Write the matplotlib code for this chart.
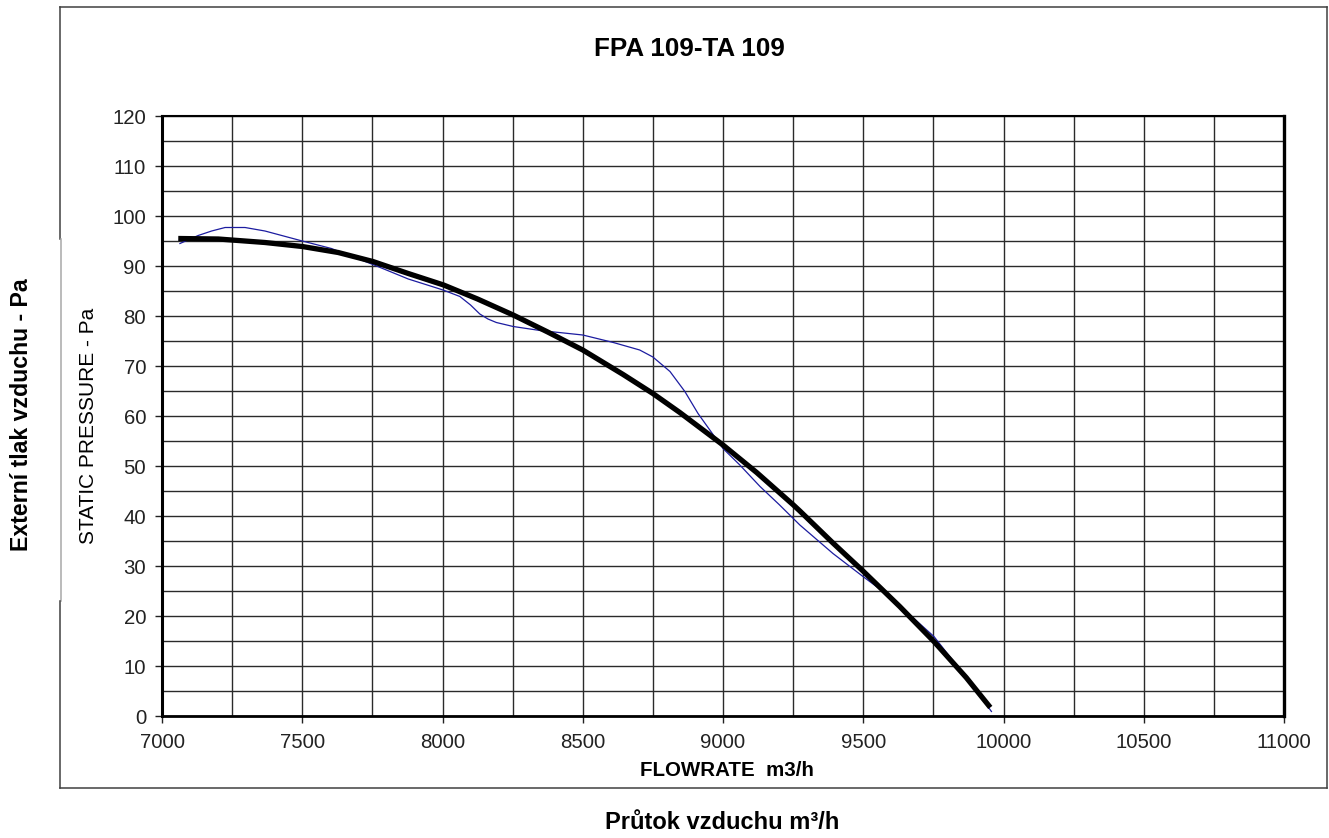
import matplotlib
matplotlib.use("Agg")
import matplotlib.pyplot as plt
from matplotlib.lines import Line2D
from matplotlib.ticker import MultipleLocator

plt.rcParams['font.family'] = ['Liberation Sans', 'DejaVu Sans']

# values
fit_flow = [7058, 7201, 7248, 7367, 7500, 7628, 7752, 7878, 8004, 8125, 8252, 8375,
            8500, 8644, 8750, 8846, 9000, 9120, 9251, 9274, 9392, 9499, 9630, 9752,
            9867, 9953]
fit_pressure = [95.5, 95.4, 95.2, 94.7, 93.9, 92.7, 90.9, 88.5, 86.2, 83.4, 80.2, 76.8,
                73.2, 68.3, 64.5, 60.7, 54.2, 48.7, 42.2, 41.0, 34.6, 29.0, 21.9, 14.9,
                7.7, 1.7]

meas_flow = [7064, 7129, 7177, 7225, 7296, 7367, 7500, 7604, 7752, 7878, 8002, 8062,
             8100, 8133, 8162, 8192, 8252, 8348, 8500, 8609, 8703, 8750, 8811, 8864,
             8911, 8953, 9000, 9060, 9132, 9200, 9274, 9392, 9499, 9571, 9653, 9752,
             9832, 9900, 9957]
meas_pressure = [94.5, 96.1, 97.0, 97.7, 97.7, 97.0, 95.0, 93.5, 90.3, 87.4, 85.2, 83.9,
                 82.2, 80.4, 79.4, 78.7, 77.9, 77.1, 76.2, 74.7, 73.2, 71.8, 68.9, 64.9,
                 60.5, 57.2, 53.5, 50.2, 45.9, 42.3, 38.2, 32.5, 27.9, 24.9, 20.9, 15.9,
                 10.2, 5.3, 0.9]

title = "FPA 109-TA 109"
xlabel_en = "FLOWRATE  m3/h"
ylabel_en = "STATIC PRESSURE - Pa"
xlabel_cz = "Průtok vzduchu m³/h"
ylabel_cz = "Externí tlak vzduchu - Pa"

W, H = 1329, 838
fig = plt.figure(figsize=(W / 100, H / 100), dpi=100)
fig.patch.set_facecolor('white')


def fx(px):
    return px / W


def fy(py):
    return 1 - py / H


ax = fig.add_axes([fx(162), fy(716), fx(1284) - fx(162), fy(116) - fy(716)])

ax.set_xlim(7000, 11000)
ax.set_ylim(0, 120)
ax.xaxis.set_major_locator(MultipleLocator(500))
ax.xaxis.set_minor_locator(MultipleLocator(250))
ax.yaxis.set_major_locator(MultipleLocator(10))
ax.yaxis.set_minor_locator(MultipleLocator(5))
ax.grid(True, which='both', color='#2a2a2a', lw=1.0)
ax.set_axisbelow(True)

ax.tick_params(which='major', direction='out', length=5, width=1.0, color='#222222',
               labelsize=14.7, labelcolor='#222222')
ax.tick_params(axis='x', which='major', pad=7)
ax.tick_params(axis='y', which='major', pad=6.5)
ax.tick_params(which='minor', length=0)

for side, w in [('left', 2.2), ('right', 2.4), ('top', 1.5), ('bottom', 2.0)]:
    ax.spines[side].set_linewidth(w)
    ax.spines[side].set_color('black')

ax.plot(meas_flow, meas_pressure, color='#1c1ca0', lw=0.9, zorder=3)
ax.plot(fit_flow, fit_pressure, color='black', lw=3.8, solid_capstyle='butt',
        solid_joinstyle='round', zorder=4)

# outer frame
frame = '#404040'
segs = [
    ([60, 1327], [7, 7], frame),
    ([1327, 1327], [7, 788], frame),
    ([60, 1327], [788, 788], frame),
    ([60, 60], [7, 239], frame),
    ([61, 61], [239, 601], '#a8a8a8'),
    ([60, 60], [601, 788], frame),
]
for xs, ys, c in segs:
    fig.add_artist(Line2D([fx(v) for v in xs], [fy(v) for v in ys], color=c, lw=1.1,
                          transform=fig.transFigure))

fig.text(fx(689.5), fy(49), title, ha='center', va='center', fontsize=18.7,
         fontweight='bold')
fig.text(fx(727), fy(770), xlabel_en, ha='center', va='center', fontsize=14.8,
         fontweight='bold')
fig.text(fx(88.5), fy(426), ylabel_en, ha='center', va='center', fontsize=15,
         rotation=90)
fig.text(fx(722), fy(822), xlabel_cz, ha='center', va='center', fontsize=17,
         fontweight='bold')
fig.text(fx(22), fy(415), ylabel_cz, ha='center', va='center', fontsize=16.7,
         fontweight='bold', rotation=90)

fig.savefig('out.png', dpi=100, facecolor='white')
